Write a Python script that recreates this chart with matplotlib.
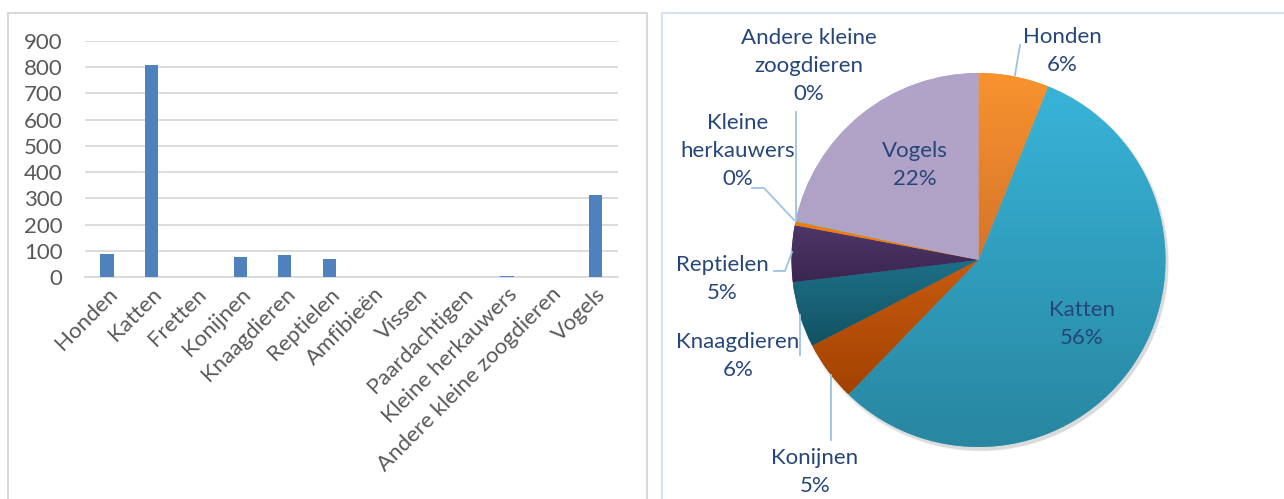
import numpy as np
import matplotlib
matplotlib.use("Agg")
import matplotlib.pyplot as plt
from matplotlib.patches import Rectangle, Circle
from matplotlib.colors import to_rgb

# ---------------- data ----------------
categories = ["Honden", "Katten", "Fretten", "Konijnen", "Knaagdieren", "Reptielen",
              "Amfibieën", "Vissen", "Paardachtigen", "Kleine herkauwers",
              "Andere kleine zoogdieren", "Vogels"]
values = [88, 810, 0, 75, 82, 70, 0, 0, 0, 5, 1, 312]
yticks = [0, 100, 200, 300, 400, 500, 600, 700, 800, 900]

# pie label names (line-broken as in the chart)
pie_names = {
    "Honden": "Honden",
    "Katten": "Katten",
    "Konijnen": "Konijnen",
    "Knaagdieren": "Knaagdieren",
    "Reptielen": "Reptielen",
    "Kleine herkauwers": "Kleine\nherkauwers",
    "Andere kleine zoogdieren": "Andere kleine\nzoogdieren",
    "Vogels": "Vogels",
}
# gradient colours (top, bottom) per slice
slice_colors = {
    "Honden": ("#F8932F", "#D6742A"),
    "Katten": ("#38B4D8", "#2886A0"),
    "Fretten": ("#9BBB59", "#9BBB59"),
    "Konijnen": ("#C85B10", "#A24200"),
    "Knaagdieren": ("#1D7088", "#125262"),
    "Reptielen": ("#4E3769", "#3A2650"),
    "Amfibieën": ("#8064A2", "#8064A2"),
    "Vissen": ("#4F81BD", "#4F81BD"),
    "Paardachtigen": ("#C0504D", "#C0504D"),
    "Kleine herkauwers": ("#F57A0C", "#F57A0C"),
    "Andere kleine zoogdieren": ("#4BACC6", "#4BACC6"),
    "Vogels": ("#B2A3C8", "#B0A1C6"),
}

FONT = ["Lato", "DejaVu Sans"]
plt.rcParams["font.family"] = FONT

W, H = 1284, 499
fig = plt.figure(figsize=(W / 100, H / 100), dpi=100)

# panel borders
fig.add_artist(Rectangle((8 / W, -0.05), (647 - 8) / W, (H - 13) / H + 0.05,
                         transform=fig.transFigure, fill=False,
                         edgecolor="#D9D9D9", lw=1.5))
fig.add_artist(Rectangle((662 / W, -0.05), (W + 10 - 662) / W, (H - 13) / H + 0.05,
                         transform=fig.transFigure, fill=False,
                         edgecolor="#D5E3F5", lw=1.5))

# ---------------- bar chart ----------------
x0, x1 = 84.8, 618.0
yb, yt = H - 277, H - 41
ax = fig.add_axes([x0 / W, yb / H, (x1 - x0) / W, (yt - yb) / H])
x = np.arange(len(categories))
ax.bar(x, values, width=0.3, color="#4F81BD", zorder=3)
ax.set_xlim(-0.5, len(categories) - 0.5)
ax.set_ylim(0, 900)
ax.set_yticks(yticks)
ax.set_yticklabels([str(t) for t in yticks], fontsize=16, color="#595959")
ax.yaxis.grid(True, color="#D9D9D9", lw=1.3, zorder=0)
ax.set_axisbelow(True)
for s in ["top", "right", "left"]:
    ax.spines[s].set_visible(False)
ax.spines["bottom"].set_color("#D9D9D9")
ax.spines["bottom"].set_linewidth(1.3)
ax.tick_params(axis="y", length=0, pad=16)
ax.tick_params(axis="x", length=0, pad=5)
ax.set_xticks(x)
ax.set_xticklabels(categories, rotation=45, ha="right", va="top",
                   rotation_mode="anchor", fontsize=16, color="#595959")

# ---------------- pie chart ----------------
pax = fig.add_axes([660 / W, 0, (W - 660) / W, 1])
cx, cy, R = 978.5, H - 260, 187

# soft shadow
for i, a in enumerate([0.04, 0.05, 0.06]):
    pax.add_patch(Circle((cx + 1.5 + i * 0.5, cy - 2.5 - i * 0.5), R + 2 - i, color="black",
                         alpha=a, lw=0, zorder=0))

wedges, _ = pax.pie(values, startangle=90, counterclock=False,
                    center=(cx, cy), radius=R, frame=True,
                    wedgeprops=dict(lw=0))
pax.set_xlim(660, W)
pax.set_ylim(0, H)
pax.set_aspect("auto")
pax.axis("off")

for w, cat in zip(wedges, categories):
    ctop, cbot = slice_colors[cat]
    w.set_facecolor(ctop)
    w.set_zorder(2)
    verts = w.get_path().vertices
    if len(verts) == 0:
        continue
    ymin, ymax = verts[:, 1].min(), verts[:, 1].max()
    xmin, xmax = verts[:, 0].min(), verts[:, 0].max()
    if ymax - ymin < 1 or ctop == cbot:
        continue
    t = np.linspace(0, 1, 256)[:, None]
    c1, c2 = np.array(to_rgb(ctop)), np.array(to_rgb(cbot))
    grad = (c1[None, :] * (1 - t) + c2[None, :] * t)[:, None, :]
    im = pax.imshow(grad, extent=(xmin, xmax, ymin, ymax), origin="upper",
                    aspect="auto", zorder=3, interpolation="bilinear")
    im.set_clip_path(w)

pax.set_xlim(660, W)
pax.set_ylim(0, H)

total = sum(values)
TXT = "#26467A"
LEAD = "#9DC3E6"

def pct(cat):
    v = values[categories.index(cat)]
    return f"{round(v / total * 100)}%"

# label positions (layout, image pixel coords) and leader line paths
label_layout = {
    "Honden": ((1062, 51), [(1015, 75), (1020, 45)]),
    "Katten": ((1082, 324), None),
    "Vogels": ((915, 165), None),
    "Konijnen": ((815, 472), [(831, 375), (831, 440)]),
    "Knaagdieren": ((738, 356), [(800, 315), (800, 355)]),
    "Reptielen": ((722, 279), [(774, 271), (785, 271), (792, 252)]),
    "Kleine herkauwers": ((738, 151), [(752, 188), (764, 188), (794, 220)]),
    "Andere kleine zoogdieren": ((809, 66), [(796, 112), (796, 220)]),
}
for cat, (pos, lead) in label_layout.items():
    pax.text(pos[0], H - pos[1], pie_names[cat] + "\n" + pct(cat),
             ha="center", va="center", fontsize=16, color=TXT,
             linespacing=1.5, zorder=6)
    if lead:
        xs = [p[0] for p in lead]
        ys = [H - p[1] for p in lead]
        pax.plot(xs, ys, color=LEAD, lw=1.3, zorder=5)

fig.savefig("out.png", dpi=100)
